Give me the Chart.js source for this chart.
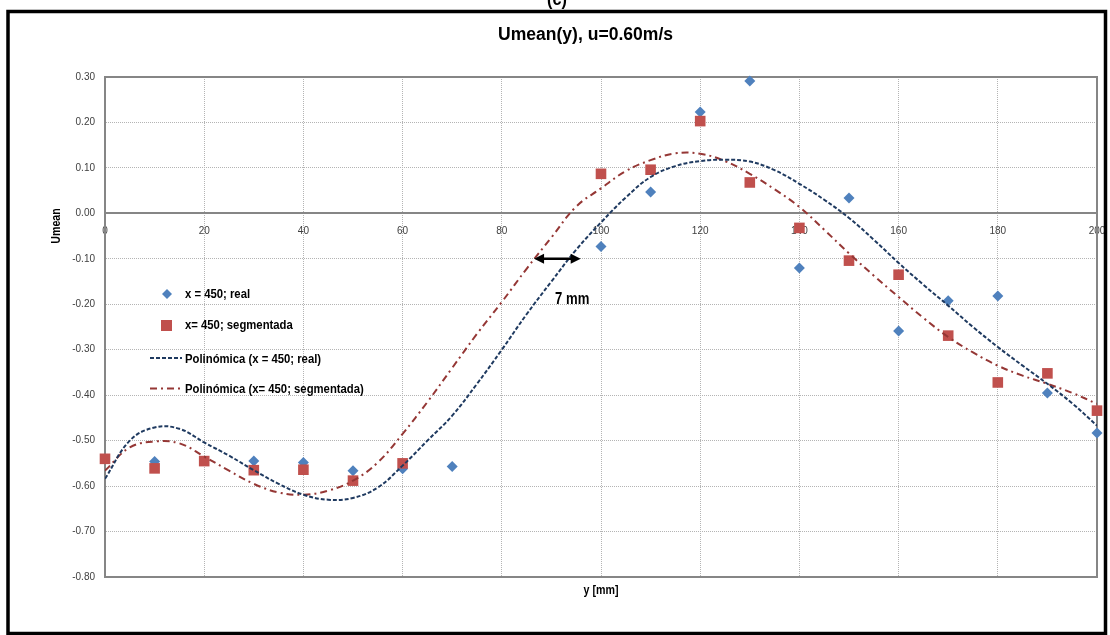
<!DOCTYPE html>
<html>
<head>
<meta charset="utf-8">
<script src="https://cdn.jsdelivr.net/npm/chart.js@4.4.0/dist/chart.umd.min.js"></script>
<style>
  html, body { margin: 0; padding: 0; background: #fff; }
  #wrap { width: 1110px; height: 635px; }
</style>
</head>
<body>
<div id="wrap"><canvas id="chart" width="1110" height="635"></canvas></div>
<script>
// measured points, x = 450
const realPos = [10, 30, 40, 50, 60, 70, 100, 110, 120, 130, 140, 150, 160, 170, 180, 190, 200];
const realU   = [-0.546, -0.545, -0.548, -0.566, -0.562, -0.557, -0.073, 0.047, 0.223, 0.291, -0.120, 0.034, -0.259, -0.192, -0.182, -0.395, -0.483];

const segPos = [0, 10, 20, 30, 40, 50, 60, 100, 110, 120, 130, 140, 150, 160, 170, 180, 190, 200];
const segU   = [-0.540, -0.561, -0.545, -0.565, -0.564, -0.588, -0.550, 0.087, 0.096, 0.203, 0.068, -0.032, -0.104, -0.135, -0.269, -0.372, -0.352, -0.434];

// polynomial trend lines, every 5 mm
const fitPos  = [0, 5, 10, 15, 20, 25, 30, 35, 40, 45, 50, 55, 60, 65, 70, 75, 80, 85, 90, 95, 100,
                 105, 110, 115, 120, 125, 130, 135, 140, 145, 150, 155, 160, 165, 170, 175, 180, 185, 190, 195, 200];
const fitReal = [-0.584, -0.500, -0.471, -0.474, -0.504, -0.533, -0.565, -0.595, -0.619, -0.630, -0.626, -0.603, -0.555, -0.500, -0.445, -0.375, -0.300, -0.222, -0.150, -0.080, -0.020,
                 0.035, 0.080, 0.104, 0.115, 0.118, 0.114, 0.095, 0.065, 0.030, -0.010, -0.058, -0.109, -0.157, -0.203, -0.250, -0.294, -0.335, -0.375, -0.418, -0.467];
const fitSeg  = [-0.566, -0.515, -0.502, -0.506, -0.535, -0.566, -0.595, -0.614, -0.619, -0.610, -0.588, -0.548, -0.485, -0.415, -0.340, -0.265, -0.195, -0.122, -0.053, 0.015, 0.055,
                 0.093, 0.117, 0.132, 0.131, 0.115, 0.087, 0.053, 0.014, -0.036, -0.088, -0.137, -0.184, -0.230, -0.272, -0.306, -0.335, -0.357, -0.375, -0.395, -0.419];

const legendLabels = ['x = 450; real', 'x= 450; segmentada', 'Polinómica (x = 450; real)', 'Polinómica (x= 450; segmentada)'];
const shiftArrow = [86.5, 95.9, -0.10]; // from, to, at
const shiftText = '7 mm';

const FONT = "'Liberation Sans Narrow', 'Arial Narrow', 'Liberation Sans', Arial, sans-serif";
const BLUE = '#4F81BD', RED = '#C0504D', NAVY = '#1F3A60', DARKRED = '#953735';

const pts = (xs, ys) => xs.map((x, i) => ({ x, y: ys[i] }));

// no narrow face installed, so squeeze the regular one
function narrow(c, text, x, y, font, align, sq) {
  c.save();
  c.translate(x, y);
  c.scale(sq || 0.82, 1);
  c.font = font;
  c.textAlign = align || 'left';
  c.textBaseline = 'alphabetic';
  c.fillText(text, 0, 0);
  c.restore();
}

const decor = {
  id: 'decor',
  beforeDraw(chart) {
    const c = chart.ctx;
    c.save();
    c.fillStyle = '#fff';
    c.fillRect(0, 0, chart.width, chart.height);
    c.restore();
  },
  beforeDatasetsDraw(chart) {
    const c = chart.ctx, a = chart.chartArea;
    c.save();
    c.strokeStyle = '#868686';
    c.lineWidth = 2;
    c.strokeRect(a.left, a.top, a.right - a.left, a.bottom - a.top);
    c.restore();
  },
  afterDraw(chart) {
    const c = chart.ctx;
    const sx = chart.scales.x, sy = chart.scales.y;
    c.save();
    c.fillStyle = '#000';

    // cut-off panel letter and title
    narrow(c, '(c)', 557, 5, 'bold 18px ' + FONT, 'center', 0.9);
    narrow(c, 'Umean(y), u=0.60m/s', 585.5, 40, 'bold 18px ' + FONT, 'center', 0.975);

    // axis titles
    narrow(c, 'y [mm]', 601, 594, 'bold 13px ' + FONT, 'center');
    c.save();
    c.translate(60, 226);
    c.rotate(-Math.PI / 2);
    narrow(c, 'Umean', 0, 0, 'bold 13px ' + FONT, 'center');
    c.restore();

    // legend inside the plot
    const base = [298, 329, 362.5, 393];
    const mid = [294, 325, 358, 388.5];
    legendLabels.forEach((t, i) => narrow(c, t, 185, base[i], 'bold 13px ' + FONT, 'left', 0.87));
    c.fillStyle = BLUE;
    c.beginPath();
    c.moveTo(167, mid[0] - 5); c.lineTo(172, mid[0]); c.lineTo(167, mid[0] + 5); c.lineTo(162, mid[0]);
    c.closePath(); c.fill();
    c.fillStyle = RED;
    c.fillRect(161, mid[1] - 5, 11, 11);
    c.lineWidth = 2;
    c.strokeStyle = NAVY;
    c.setLineDash([4, 2]);
    c.beginPath(); c.moveTo(150, mid[2]); c.lineTo(182, mid[2]); c.stroke();
    c.strokeStyle = DARKRED;
    c.setLineDash([7, 4, 2, 4]);
    c.beginPath(); c.moveTo(150, mid[3]); c.lineTo(182, mid[3]); c.stroke();
    c.setLineDash([]);

    // 7 mm shift arrow
    const x1 = sx.getPixelForValue(shiftArrow[0]);
    const x2 = sx.getPixelForValue(shiftArrow[1]);
    const ay = sy.getPixelForValue(shiftArrow[2]);
    c.strokeStyle = '#000';
    c.fillStyle = '#000';
    c.lineWidth = 2.5;
    c.beginPath(); c.moveTo(x1 + 6, ay); c.lineTo(x2 - 6, ay); c.stroke();
    c.beginPath(); c.moveTo(x1, ay); c.lineTo(x1 + 10, ay - 5); c.lineTo(x1 + 10, ay + 5); c.closePath(); c.fill();
    c.beginPath(); c.moveTo(x2, ay); c.lineTo(x2 - 10, ay - 5); c.lineTo(x2 - 10, ay + 5); c.closePath(); c.fill();
    narrow(c, shiftText, sx.getPixelForValue(94.2), sy.getPixelForValue(-0.187) + 6, 'bold 16px ' + FONT, 'center', 0.82);

    // black outer frame
    c.strokeStyle = '#000';
    c.lineWidth = 3.5;
    c.strokeRect(8, 11.5, 1097.5, 622);
    c.restore();
  }
};

new Chart(document.getElementById('chart'), {
  type: 'scatter',
  data: {
    datasets: [
      {
        label: legendLabels[2], data: pts(fitPos, fitReal), showLine: true,
        borderColor: NAVY, borderWidth: 2, borderDash: [4, 2], pointRadius: 0,
        tension: 0.4, fill: false
      },
      {
        label: legendLabels[3], data: pts(fitPos, fitSeg), showLine: true,
        borderColor: DARKRED, borderWidth: 2, borderDash: [7, 4, 2, 4], pointRadius: 0,
        tension: 0.4, fill: false
      },
      {
        label: legendLabels[1], data: pts(segPos, segU), pointStyle: 'rect',
        pointRadius: 7.5, backgroundColor: RED, borderColor: RED, borderWidth: 0, clip: false
      },
      {
        label: legendLabels[0], data: pts(realPos, realU), pointStyle: 'rectRot',
        pointRadius: 5.5, backgroundColor: BLUE, borderColor: BLUE, borderWidth: 0, clip: false
      }
    ]
  },
  options: {
    responsive: false,
    animation: false,
    devicePixelRatio: 1,
    layout: { padding: { left: 45, right: 13, top: 77, bottom: 58 } },
    plugins: { legend: { display: false }, tooltip: { enabled: false }, title: { display: false } },
    scales: {
      x: {
        type: 'linear', position: { y: 0 }, min: 0, max: 200,
        ticks: { stepSize: 20, color: '#404040', font: { family: FONT, size: 10 }, padding: 12, maxRotation: 0 },
        grid: { color: '#b4b4b4', lineWidth: 1, drawTicks: false },
        border: { display: true, color: '#868686', width: 2, dash: [1, 1] },
        afterFit(s) { s.paddingLeft = 0; s.paddingRight = 0; }
      },
      y: {
        min: -0.8, max: 0.3,
        ticks: {
          stepSize: 0.1, color: '#404040', font: { family: FONT, size: 10 }, padding: 10,
          callback: v => (Math.abs(v) < 1e-9 ? 0 : v).toFixed(2)
        },
        grid: { color: '#b4b4b4', lineWidth: 1, drawTicks: false },
        border: { display: true, color: '#868686', width: 2, dash: [1, 1] },
        afterFit(s) { s.width = 60; }
      }
    }
  },
  plugins: [decor]
});
</script>
</body>
</html>
